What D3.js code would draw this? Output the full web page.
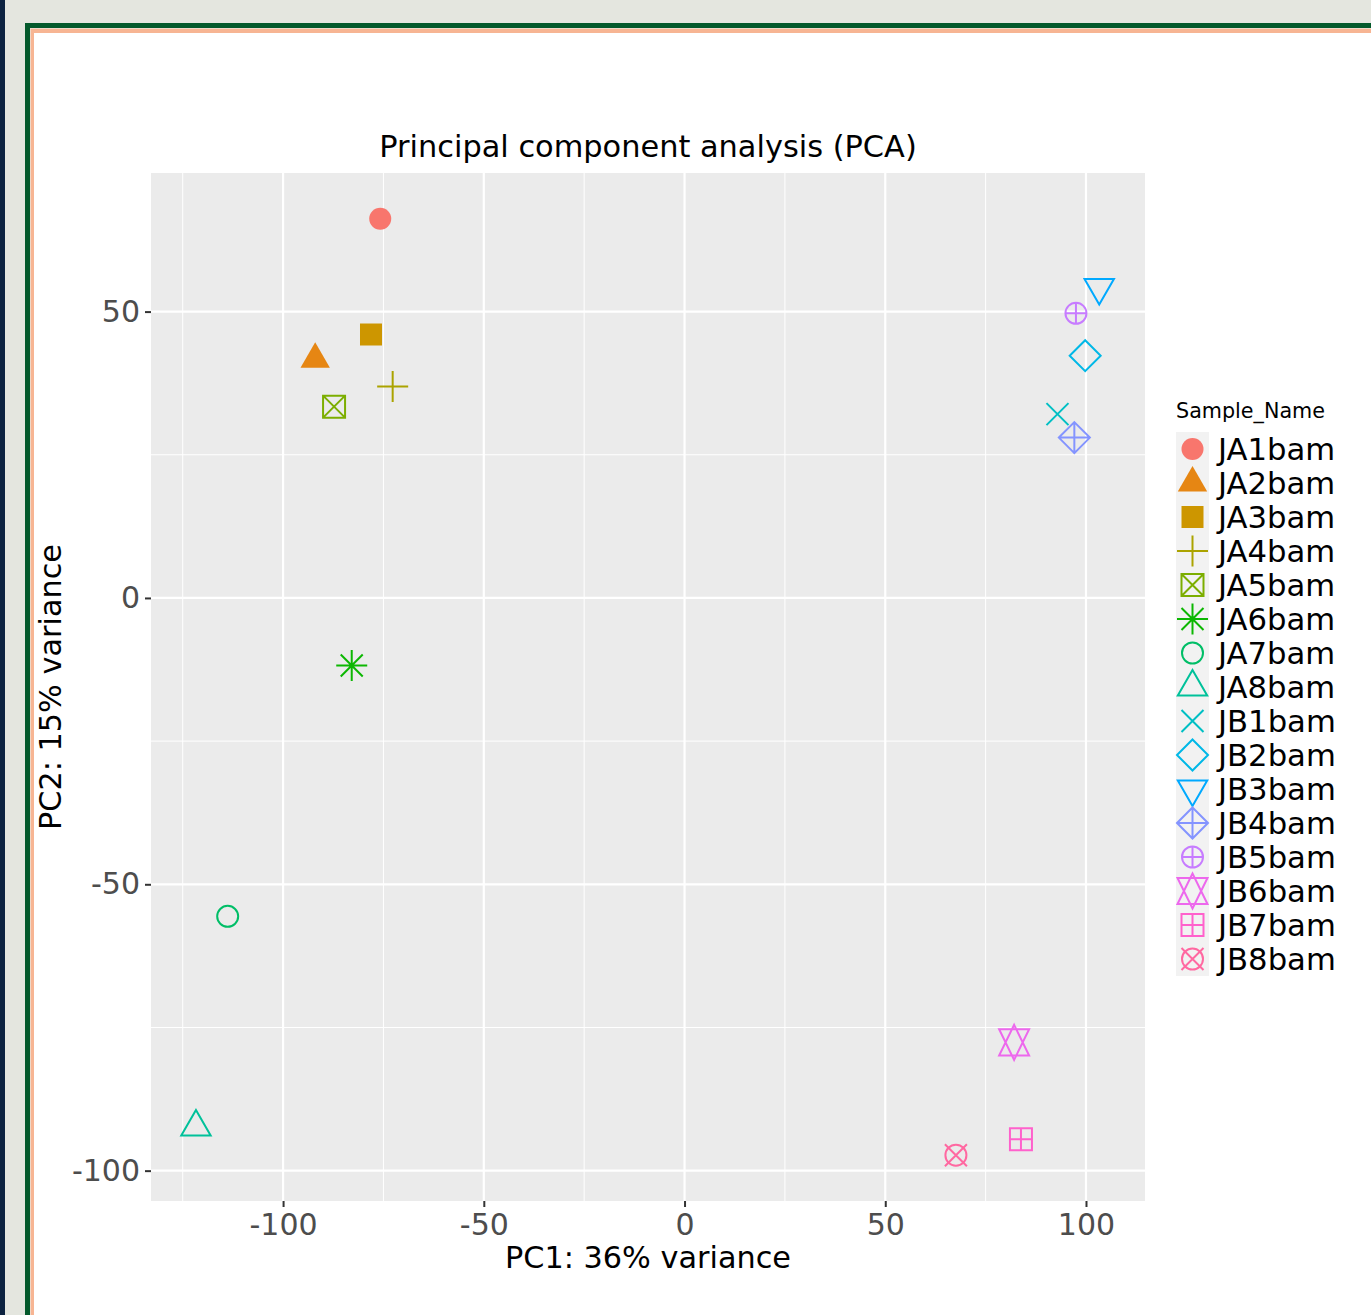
<!DOCTYPE html>
<html>
<head>
<meta charset="utf-8">
<script src="https://cdn.jsdelivr.net/npm/d3@7"></script>
<style>
  body { margin: 0; background: #e4e6df; overflow: hidden; }
  svg { display: block; font-family: "DejaVu Sans", sans-serif; }
</style>
</head>
<body>
<svg id="chart" width="1371" height="1315"></svg>
<script>
// PCA scores
var samples = ["JA1bam", "JA2bam", "JA3bam", "JA4bam", "JA5bam", "JA6bam", "JA7bam", "JA8bam",
               "JB1bam", "JB2bam", "JB3bam", "JB4bam", "JB5bam", "JB6bam", "JB7bam", "JB8bam"];
var pc1 = [-75.8, -92.0, -78.1, -72.7, -87.3, -82.9, -113.8, -121.7,
           92.9, 99.8, 103.3, 97.1, 97.5, 82.1, 83.8, 67.6];
var pc2 = [66.2, 41.7, 46.0, 36.9, 33.4, -11.8, -55.6, -92.4,
           32.1, 42.3, 54.2, 28.0, 49.7, -77.6, -94.5, -97.3];
// ggplot point shape codes and default hue palette
var shapeCodes = [16, 17, 15, 3, 7, 8, 1, 2, 4, 5, 6, 9, 10, 11, 12, 13];
var colors = ["#F8766D", "#E68613", "#CD9600", "#ABA300", "#7CAE00", "#0CB702", "#00BE67", "#00C19A",
              "#00BFC4", "#00B8E7", "#00A9FF", "#8494FF", "#C77CFF", "#ED68ED", "#FF61CC", "#FF68A1"];
var xTicks = [-100, -50, 0, 50, 100];
var yTicks = [-100, -50, 0, 50];
var xMinor = [-125, -75, -25, 25, 75];
var yMinor = [-75, -25, 25];

var svg = d3.select("#chart");

// page frame around the plot
svg.append("rect").attr("x", 0).attr("y", 0).attr("width", 1371).attr("height", 1315).attr("fill", "#e4e6df");
svg.append("rect").attr("x", 0).attr("y", 0).attr("width", 5).attr("height", 1315).attr("fill", "#0c2240");
svg.append("rect").attr("x", 25).attr("y", 23).attr("width", 1400).attr("height", 1400).attr("fill", "#03592b");
svg.append("rect").attr("x", 30).attr("y", 28).attr("width", 1400).attr("height", 1400).attr("fill", "#efd8c8");
svg.append("rect").attr("x", 31).attr("y", 29).attr("width", 1400).attr("height", 1400).attr("fill", "#f7b593");
svg.append("rect").attr("x", 34).attr("y", 33).attr("width", 1400).attr("height", 1400).attr("fill", "#ffffff");

var panel = {left: 151, top: 173, right: 1145, bottom: 1201};

var x = d3.scaleLinear().domain([-132.9, 114.7]).range([panel.left, panel.right]);
var y = d3.scaleLinear().domain([-105.3, 74.2]).range([panel.bottom, panel.top]);

svg.append("rect")
    .attr("x", panel.left).attr("y", panel.top)
    .attr("width", panel.right - panel.left).attr("height", panel.bottom - panel.top)
    .attr("fill", "#ebebeb");

var grid = svg.append("g").attr("class", "grid");
grid.selectAll(".xminor").data(xMinor).enter().append("line")
    .attr("x1", function(d) { return x(d); }).attr("x2", function(d) { return x(d); })
    .attr("y1", panel.top).attr("y2", panel.bottom)
    .attr("stroke", "#fff").attr("stroke-width", 1);
grid.selectAll(".yminor").data(yMinor).enter().append("line")
    .attr("y1", function(d) { return y(d); }).attr("y2", function(d) { return y(d); })
    .attr("x1", panel.left).attr("x2", panel.right)
    .attr("stroke", "#fff").attr("stroke-width", 1);
grid.selectAll(".xmajor").data(xTicks).enter().append("line")
    .attr("x1", function(d) { return x(d); }).attr("x2", function(d) { return x(d); })
    .attr("y1", panel.top).attr("y2", panel.bottom)
    .attr("stroke", "#fff").attr("stroke-width", 2.2);
grid.selectAll(".ymajor").data(yTicks).enter().append("line")
    .attr("y1", function(d) { return y(d); }).attr("y2", function(d) { return y(d); })
    .attr("x1", panel.left).attr("x2", panel.right)
    .attr("stroke", "#fff").attr("stroke-width", 2.2);

// axes (plain hyphen for negatives, like R)
var fmt = function(d) { return String(d); };
var xAxis = svg.append("g")
    .attr("transform", "translate(0," + panel.bottom + ")")
    .call(d3.axisBottom(x).tickValues(xTicks).tickFormat(fmt).tickSize(6).tickPadding(7));
var yAxis = svg.append("g")
    .attr("transform", "translate(" + panel.left + ",0)")
    .call(d3.axisLeft(y).tickValues(yTicks).tickFormat(fmt).tickSize(6).tickPadding(5));
[xAxis, yAxis].forEach(function(a) {
  a.select(".domain").remove();
  a.selectAll(".tick line").attr("stroke", "#333").attr("stroke-width", 2);
  a.selectAll(".tick text").attr("fill", "#4d4d4d").style("font-size", "30px")
      .style("font-family", "DejaVu Sans");
});

// titles
svg.append("text")
    .attr("x", (panel.left + panel.right) / 2).attr("y", 157)
    .attr("text-anchor", "middle").style("font-size", "30.4px").attr("fill", "#000")
    .text("Principal component analysis (PCA)");
svg.append("text")
    .attr("x", (panel.left + panel.right) / 2).attr("y", 1268)
    .attr("text-anchor", "middle").style("font-size", "30.3px").attr("fill", "#000")
    .text("PC1: 36% variance");
svg.append("text")
    .attr("transform", "translate(61," + (panel.top + panel.bottom) / 2 + ") rotate(-90)")
    .attr("text-anchor", "middle").style("font-size", "30.3px").attr("fill", "#000")
    .text("PC2: 15% variance");

// ggplot-like point shapes
function drawShape(g, code, col) {
  var sw = 2;
  function stroke(sel) { return sel.attr("fill", "none").attr("stroke", col).attr("stroke-width", sw); }
  var tri = "M0,-17L14.7,8.5L-14.7,8.5Z";
  var triDown = "M0,17L14.7,-8.5L-14.7,-8.5Z";
  var plus = "M-15.5,0H15.5M0,-15.5V15.5";
  var cross = "M-11,-11L11,11M-11,11L11,-11";
  var diamond = "M0,-15.5L15.5,0L0,15.5L-15.5,0Z";
  switch (code) {
    case 16: g.append("circle").attr("r", 11).attr("fill", col); break;
    case 17: g.append("path").attr("d", tri).attr("fill", col); break;
    case 15: g.append("rect").attr("x", -11).attr("y", -11).attr("width", 22).attr("height", 22).attr("fill", col); break;
    case 3: stroke(g.append("path").attr("d", plus)); break;
    case 7: stroke(g.append("path").attr("d", "M-11,-11H11V11H-11Z" + cross)); break;
    case 8: stroke(g.append("path").attr("d", plus + cross)); break;
    case 1: stroke(g.append("circle").attr("r", 10.5)); break;
    case 2: stroke(g.append("path").attr("d", tri)); break;
    case 4: stroke(g.append("path").attr("d", cross)); break;
    case 5: stroke(g.append("path").attr("d", diamond)); break;
    case 6: stroke(g.append("path").attr("d", triDown)); break;
    case 9: stroke(g.append("path").attr("d", diamond + plus)); break;
    case 10:
      stroke(g.append("circle").attr("r", 10.5));
      stroke(g.append("path").attr("d", "M-10.5,0H10.5M0,-10.5V10.5"));
      break;
    case 11:
      stroke(g.append("path").attr("d", "M0,-17.5L15,13.1L-15,13.1ZM0,17.5L15,-13.1L-15,-13.1Z"));
      break;
    case 12: stroke(g.append("path").attr("d", "M-11,-11H11V11H-11ZM-11,0H11M0,-11V11")); break;
    case 13:
      stroke(g.append("circle").attr("r", 10.5));
      stroke(g.append("path").attr("d", cross));
      break;
  }
}

var idx = d3.range(samples.length);

svg.append("g").attr("class", "points")
  .selectAll("g")
  .data(idx)
  .enter().append("g")
    .attr("transform", function(i) { return "translate(" + x(pc1[i]) + "," + y(pc2[i]) + ")"; })
    .each(function(i) { drawShape(d3.select(this), shapeCodes[i], colors[i]); });

// legend
var legend = svg.append("g").attr("transform", "translate(1176,0)");
legend.append("text").attr("x", 0).attr("y", 418)
    .style("font-size", "20.7px").attr("fill", "#000").text("Sample_Name");
var keyTop = 432, keyH = 34;
legend.append("rect").attr("x", 0).attr("y", keyTop).attr("width", 33).attr("height", keyH * samples.length)
    .attr("fill", "#f2f2f2");
var items = legend.selectAll(".item")
  .data(idx)
  .enter().append("g")
    .attr("class", "item")
    .attr("transform", function(i) { return "translate(0," + (keyTop + keyH / 2 + i * keyH) + ")"; });
items.append("g").attr("transform", "translate(16.5,0)")
    .each(function(i) { drawShape(d3.select(this), shapeCodes[i], colors[i]); });
items.append("text").attr("x", 42).attr("y", 11)
    .style("font-size", "30.7px").attr("fill", "#000")
    .text(function(i) { return samples[i]; });
</script>
</body>
</html>
